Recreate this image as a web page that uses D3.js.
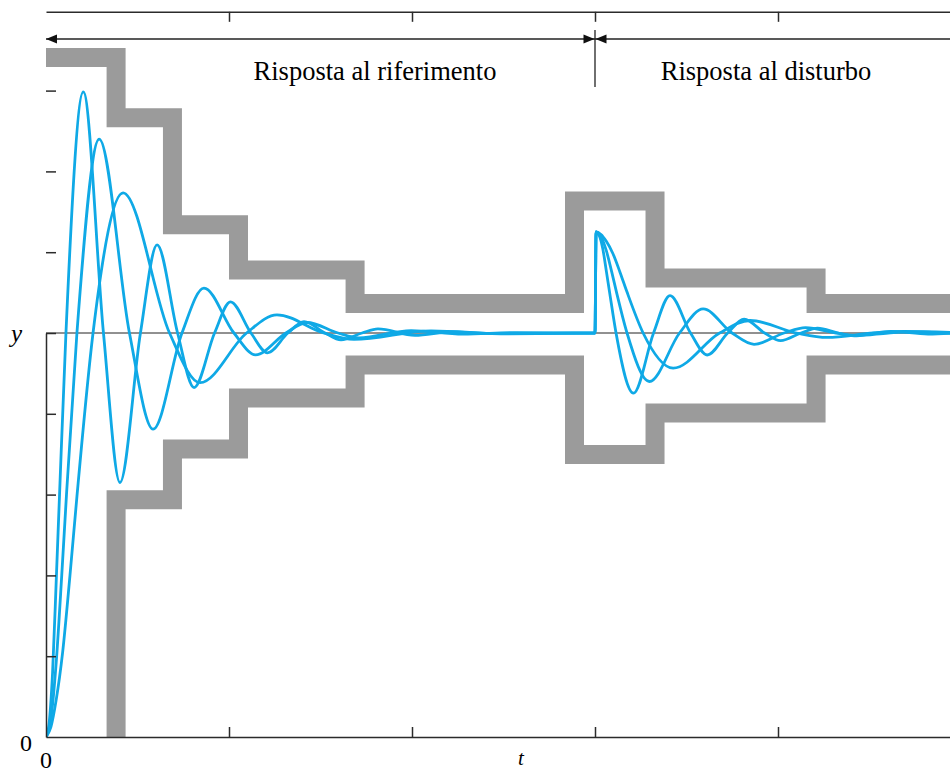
<!DOCTYPE html>
<html>
<head>
<meta charset="utf-8">
<script src="https://cdn.jsdelivr.net/npm/d3@7"></script>
<style>
  body { margin: 0; background: #fff; }
  svg { display: block; }
  .axis .domain, .axis line { stroke: #2b2b2b; stroke-width: 1.5; }
</style>
</head>
<body>
<div id="chart"></div>
<script>
// Step responses to the reference (t from 0 to 3)
const refFast = [[0, 0], [0.016, 0.03], [0.036, 0.16], [0.057, 0.40], [0.074, 0.60], [0.109, 1.0],
  [0.204, 1.597], [0.314, 1.0], [0.404, 0.63], [0.516, 1.0], [0.607, 1.218], [0.719, 1.0],
  [0.809, 0.865], [0.921, 1.0], [1.008, 1.077], [1.120, 1.0], [1.210, 0.951], [1.322, 1.0],
  [1.410, 1.028], [1.525, 1.0], [1.612, 0.983], [1.727, 1.0], [1.814, 1.010], [2.016, 0.994],
  [2.219, 1.003], [2.421, 0.999], [3.0, 1.0]];
const refMid = [[0, 0], [0.022, 0.03], [0.055, 0.18], [0.086, 0.40], [0.112, 0.60], [0.169, 1.0],
  [0.291, 1.480], [0.456, 1.0], [0.585, 0.762], [0.743, 1.0], [0.863, 1.111], [1.027, 1.0],
  [1.145, 0.946], [1.311, 1.0], [1.426, 1.026], [1.596, 1.0], [1.710, 0.988], [1.995, 1.006],
  [2.279, 0.997], [2.568, 1.001], [3.0, 1.0]];
const refSlow = [[0, 0], [0.027, 0.025], [0.055, 0.09], [0.091, 0.21], [0.131, 0.40], [0.168, 0.59],
  [0.257, 1.0], [0.421, 1.347], [0.675, 1.0], [0.842, 0.877], [1.096, 1.0], [1.262, 1.045],
  [1.516, 1.0], [1.683, 0.984], [2.104, 1.0055], [2.525, 0.998], [3.0, 1.0]];

// Responses to the disturbance entering at t = 3
const distFast = [[3.006, 1.25], [3.022, 1.2425], [3.042, 1.21], [3.063, 1.15], [3.080, 1.10],
  [3.115, 1.0], [3.210, 0.851], [3.320, 1.0], [3.410, 1.0925], [3.522, 1.0], [3.613, 0.9455],
  [3.725, 1.0], [3.815, 1.034], [3.927, 1.0], [4.014, 0.981], [4.126, 1.0], [4.216, 1.012],
  [4.328, 1.0], [4.416, 0.993], [4.531, 1.0], [4.618, 1.004], [4.820, 0.9975], [5.022, 1.0015]];
const distMid = [[3.006, 1.25], [3.028, 1.2425], [3.061, 1.205], [3.092, 1.15], [3.118, 1.10],
  [3.175, 1.0], [3.297, 0.88], [3.462, 1.0], [3.591, 1.0595], [3.749, 1.0], [3.869, 0.972],
  [4.033, 1.0], [4.151, 1.0135], [4.317, 1.0], [4.432, 0.9935], [4.602, 1.0], [4.716, 1.003],
  [5.000, 0.9985]];
const distSlow = [[3.006, 1.25], [3.033, 1.244], [3.061, 1.2275], [3.097, 1.1975], [3.137, 1.15],
  [3.174, 1.1025], [3.263, 1.0], [3.427, 0.913], [3.681, 1.0], [3.848, 1.031], [4.102, 1.0],
  [4.268, 0.989], [4.522, 1.0], [4.689, 1.004], [5.110, 0.9986]];

// Specification bands (step after each point)
const upperBound = [[0, 1.682], [0.383, 1.533], [0.691, 1.268], [1.052, 1.156], [1.689, 1.073],
  [2.888, 1.327], [3.328, 1.136], [4.208, 1.073], [5.3, 1.073]];
const lowerBound = [[0, -0.1], [0.383, 0.587], [0.691, 0.713], [1.052, 0.839], [1.689, 0.921],
  [2.888, 0.699], [3.328, 0.802], [4.208, 0.921], [5.3, 0.921]];

const xTicks = [1, 2, 3, 4, 5];
const yTicks = [0.2, 0.4, 0.6, 0.8, 1.0, 1.2, 1.4, 1.6];
const tDisturb = 3;
const yTop = 1.795;

const width = 950, height = 773;

const svg = d3.select('#chart').append('svg')
  .attr('width', width)
  .attr('height', height);

const x = d3.scaleLinear().domain([0, 5]).range([46, 961]);
const y = d3.scaleLinear().domain([0, 1]).range([737, 333]);

svg.append('defs').append('clipPath').attr('id', 'plot')
  .append('rect')
  .attr('x', x(0)).attr('y', y(yTop))
  .attr('width', x(5) - x(0)).attr('height', y(0) - y(yTop));

const plot = svg.append('g').attr('clip-path', 'url(#plot)');

// gray bands
const band = d3.line().x(d => x(d[0])).y(d => y(d[1])).curve(d3.curveStepAfter);
[upperBound, lowerBound].forEach(b => {
  plot.append('path')
    .attr('d', band(b))
    .attr('fill', 'none')
    .attr('stroke', '#9b9b9b')
    .attr('stroke-width', 19)
    .attr('stroke-linejoin', 'miter');
});

// reference level
plot.append('line')
  .attr('x1', x(0)).attr('x2', x(5))
  .attr('y1', y(1)).attr('y2', y(1))
  .attr('stroke', '#222').attr('stroke-width', 1);

// responses
const line = d3.line().x(d => x(d[0])).y(d => y(d[1])).curve(d3.curveMonotoneX);
const curves = [
  refSlow.concat(distSlow),
  refMid.concat(distMid),
  refFast.concat(distFast)
];
plot.selectAll('.resp')
  .data(curves)
  .enter()
  .append('path')
  .attr('class', 'resp')
  .attr('d', line)
  .attr('fill', 'none')
  .attr('stroke', '#0fa9e6')
  .attr('stroke-width', 2.8)
  .attr('stroke-linejoin', 'round');

// axes, ticks pointing inward
svg.append('g').attr('class', 'axis')
  .attr('transform', `translate(0,${y(0)})`)
  .call(d3.axisBottom(x).tickValues(xTicks).tickSize(-10).tickSizeOuter(0).tickFormat(''));
svg.append('g').attr('class', 'axis')
  .attr('transform', `translate(0,${y(yTop)})`)
  .call(d3.axisTop(x).tickValues(xTicks).tickSize(-10).tickSizeOuter(0).tickFormat(''));
svg.append('g').attr('class', 'axis')
  .attr('transform', `translate(${x(0)},0)`)
  .call(d3.axisLeft(y).tickValues(yTicks).tickSize(-10).tickSizeOuter(0).tickFormat(''));

// interval arrows on top
const arrowY = 39;
svg.append('line')
  .attr('x1', x(0)).attr('x2', width)
  .attr('y1', arrowY).attr('y2', arrowY)
  .attr('stroke', '#222').attr('stroke-width', 1.3);
svg.append('line')
  .attr('x1', x(tDisturb)).attr('x2', x(tDisturb))
  .attr('y1', 30).attr('y2', 87)
  .attr('stroke', '#222').attr('stroke-width', 1.3);
const heads = [
  { tip: x(0), dir: -1 },
  { tip: x(tDisturb) - 0.5, dir: 1 },
  { tip: x(tDisturb) + 0.5, dir: -1 }
];
svg.selectAll('.head')
  .data(heads)
  .enter()
  .append('path')
  .attr('class', 'head')
  .attr('d', d => `M${d.tip},${arrowY} L${d.tip - d.dir * 11},${arrowY - 4.5} L${d.tip - d.dir * 11},${arrowY + 4.5} Z`)
  .attr('fill', '#111');

// texts
const serif = '"Liberation Serif", "Times New Roman", serif';
svg.append('text')
  .attr('x', 375).attr('y', 80)
  .attr('text-anchor', 'middle')
  .style('font-family', serif).style('font-size', '26.5px')
  .text('Risposta al riferimento');
svg.append('text')
  .attr('x', 766).attr('y', 80)
  .attr('text-anchor', 'middle')
  .style('font-family', serif).style('font-size', '26.5px')
  .text('Risposta al disturbo');
svg.append('text')
  .attr('x', 22).attr('y', 342)
  .attr('text-anchor', 'end')
  .style('font-family', serif).style('font-size', '25px').style('font-style', 'italic')
  .text('y');
svg.append('text')
  .attr('x', 32).attr('y', 751)
  .attr('text-anchor', 'end')
  .style('font-family', serif).style('font-size', '24px')
  .text('0');
svg.append('text')
  .attr('x', x(0)).attr('y', 768)
  .attr('text-anchor', 'middle')
  .style('font-family', serif).style('font-size', '24px')
  .text('0');
svg.append('text')
  .attr('x', 521).attr('y', 765)
  .attr('text-anchor', 'middle')
  .style('font-family', serif).style('font-size', '21px').style('font-style', 'italic')
  .text('t');
</script>
</body>
</html>
